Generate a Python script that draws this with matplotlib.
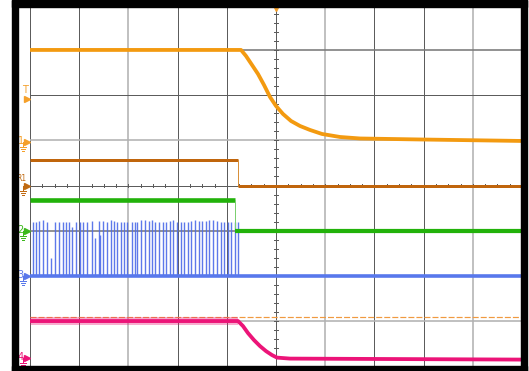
import matplotlib.pyplot as plt
import numpy as np
from matplotlib.patches import Rectangle

# scope screen: 10 x 8 divisions, all values below are in divisions
# ch1 (orange) - slow ramp down after the edge
ch1_t = [0, 4.289, 4.390, 4.512, 4.634, 4.756, 4.878, 5.0, 5.142, 5.305, 5.488,
         5.691, 5.935, 6.301, 6.707, 7.927, 10]
ch1_v = [3.004, 3.004, 2.871, 2.672, 2.472, 2.228, 1.962, 1.763, 1.585, 1.430, 1.319,
         1.231, 1.142, 1.075, 1.042, 1.020, 0.987]

# R1 reference (brown) - step down
r1_edge = 4.23
r1_high = 0.57
r1_low = -0.01

# ch2 (green) - step down
ch2_edge = 4.17
ch2_high = -0.32
ch2_low = -1.01

# ch3 (blue) - switching pulses, then idle
ch3_base = -2.0
ch3_pulse_t = [0.055, 0.122, 0.189, 0.270, 0.352, 0.421, 0.502, 0.583, 0.665, 0.732,
               0.799, 0.854, 0.935, 1.016, 1.083, 1.165, 1.260, 1.327, 1.396, 1.423,
               1.490, 1.571, 1.640, 1.707, 1.762, 1.840, 1.911, 1.978, 2.073, 2.140,
               2.181, 2.262, 2.343, 2.413, 2.480, 2.547, 2.628, 2.697, 2.764, 2.846,
               2.911, 2.982, 3.063, 3.130, 3.211, 3.278, 3.348, 3.429, 3.496, 3.577,
               3.644, 3.726, 3.793, 3.876, 3.943, 4.024, 4.091, 4.173, 4.228]
ch3_pulse_top = [-0.81, -0.81, -0.79, -0.76, -0.81, -1.60, -0.81, -0.81, -0.81, -0.81,
                 -0.81, -0.91, -0.81, -0.81, -0.81, -0.81, -0.79, -1.16, -0.79, -1.10,
                 -0.79, -0.81, -0.76, -0.79, -0.81, -0.81, -0.81, -0.81, -0.81, -0.81,
                 -0.81, -0.76, -0.76, -0.79, -0.76, -0.81, -0.81, -0.81, -0.81, -0.79,
                 -0.76, -0.81, -0.81, -0.81, -0.81, -0.79, -0.76, -0.79, -0.79, -0.79,
                 -0.76, -0.76, -0.79, -0.81, -0.81, -0.81, -0.81, -0.81, -0.81]

# ch4 (pink) - rippled level, decays after the edge
ch4_t = [0, 4.228, 4.329, 4.431, 4.553, 4.675, 4.797, 4.919, 5.020, 5.285, 10]
ch4_v = [-3.004, -3.004, -3.115, -3.271, -3.426, -3.559, -3.670, -3.758, -3.814, -3.836, -3.858]
ch4_ripple_end = 4.228

# horizontal cursor (dashed)
cursor_v = -2.92

# channel markers on the left edge
marker_labels = ['1', 'R1', '2', '3', '4']
marker_v = [0.97, 0.0, -1.0, -2.0, -3.83]
marker_col = ['#f5a02a', '#c06a12', '#3cb81c', '#5a78ea', '#ec1478']
trig_v = 1.92

c_orange = '#f39a10'
c_brown = '#c0650c'
c_green = '#22b20a'
c_blue = '#5878ec'
c_pink = '#ec1478'

PX = 0.72  # points per pixel at 100 dpi
dx = 1 / 49.2  # one pixel in x divisions
dy = 1 / 45.1  # one pixel in y divisions

fig = plt.figure(figsize=(5.29, 3.71), dpi=100)
ax = fig.add_axes([30 / 529, 5 / 371, 492 / 529, 361 / 371])
ax.set_xlim(0, 10)
ax.set_ylim(-4, 4)
ax.axis('off')

# graticule
dark = '#5c5c5c'
light = '#b2b2b2'
vcol = [dark, dark, light, dark, dark, dark, light, dark, dark, light, dark]
for i, c in enumerate(vcol):
    ax.axvline(i, color=c, lw=(1.0 if c == dark else 1.6) * PX, zorder=1)
hcol = {4: dark, 3: '#7a7a7a', 2: dark, 1: light, 0: dark, -1: '#7a7a7a', -2: dark, -3: light, -4: dark}
for y, c in hcol.items():
    ax.axhline(y, color=c, lw=(1.0 if c == dark else 1.6) * PX, zorder=1)

# minor ticks on the centre cross
for y in np.arange(-4, 4.01, 0.2):
    ax.plot([5 - 2 * dx, 5 + 2 * dx], [y, y], color=dark, lw=PX, zorder=1)
for x in np.arange(0, 10.01, 0.25):
    ax.plot([x, x], [-1.5 * dy, 1.5 * dy], color=dark, lw=PX, zorder=1)

# cursor
ax.axhline(cursor_v, color='#f09a40', lw=1.2 * PX, dashes=(5.0, 1.7), zorder=2)

# ch4
ax.plot([0, ch4_ripple_end], [ch4_v[0], ch4_v[1]], color=c_pink, lw=8 * PX, alpha=0.35,
        solid_capstyle='butt', zorder=3)
ax.plot(ch4_t, ch4_v, color=c_pink, lw=3.8 * PX, solid_capstyle='butt', zorder=3)

# ch3
ax.vlines(ch3_pulse_t, ch3_base, ch3_pulse_top, color='#4c6ae8', lw=1.4 * PX, alpha=0.9, zorder=3)
ax.plot([0, 10], [ch3_base, ch3_base], color=c_blue, lw=3.6 * PX, solid_capstyle='butt', zorder=4)

# ch2
ax.plot([0, ch2_edge], [ch2_high, ch2_high], color=c_green, lw=4.6 * PX, solid_capstyle='butt', zorder=4)
ax.plot([ch2_edge, ch2_edge], [ch2_high, ch2_low], color='#7cd070', lw=1.0 * PX, zorder=4)
ax.plot([ch2_edge, 10], [ch2_low, ch2_low], color=c_green, lw=4.2 * PX, solid_capstyle='butt', zorder=4)

# R1
ax.plot([0, r1_edge], [r1_high, r1_high], color=c_brown, lw=3.0 * PX, solid_capstyle='butt', zorder=4)
ax.plot([r1_edge, r1_edge], [r1_high, r1_low], color='#d8903a', lw=1.0 * PX, zorder=4)
ax.plot([r1_edge, 10], [r1_low, r1_low], color=c_brown, lw=3.0 * PX, solid_capstyle='butt', zorder=4)

# ch1
ax.plot(ch1_t, ch1_v, color=c_orange, lw=3.8 * PX, solid_capstyle='butt', zorder=5)

# trigger position marker at top
ax.plot(5, 4 - 3 * dy, marker='v', ms=5, color='#f5a02a', clip_on=False, zorder=6)

# trigger level marker
ax.text(-5 * dx, trig_v + 9 * dy, 'T', color='#f5a02a', fontsize=7, ha='center', va='center',
        clip_on=False)
ax.plot(-3 * dx, trig_v, marker='>', ms=4.5, color='#f5a02a', clip_on=False)

# channel ground markers
for lab, v, c in zip(marker_labels, marker_v, marker_col):
    fs = 5.5 if lab == 'R1' else 7
    ty = v + (7 * dy if lab == 'R1' else 1 * dy)
    tx = -8.5 * dx if lab == 'R1' else -9.2 * dx
    ax.text(tx, ty, lab, color=c, fontsize=fs, ha='center', va='center', clip_on=False, zorder=7)
    ax.plot([-6.8 * dx, -4 * dx], [v, v], color=c, lw=PX, clip_on=False)
    ax.plot([-6.8 * dx, -6.8 * dx], [v, v - 5 * dy], color=c, lw=PX, clip_on=False)
    for k, w in enumerate([3.0, 2.0, 1.0]):
        yy = v - (5 + 2 * k) * dy
        ax.plot([(-6.8 - w) * dx, (-6.8 + w) * dx], [yy, yy], color=c, lw=PX, clip_on=False)
    ax.plot(-3 * dx, v, marker='>', ms=4.5, color=c, clip_on=False)

# black bezel
W, H = 529, 371
for (x0, y0, w, h) in [(12, 0, 6, 371), (521, 0, 6, 371), (12, 364, 515, 7), (12, 0, 515, 5)]:
    fig.patches.append(Rectangle((x0 / W, y0 / H), w / W, h / H, transform=fig.transFigure,
                                 color='black', zorder=10))

fig.savefig('out.png', dpi=100)
